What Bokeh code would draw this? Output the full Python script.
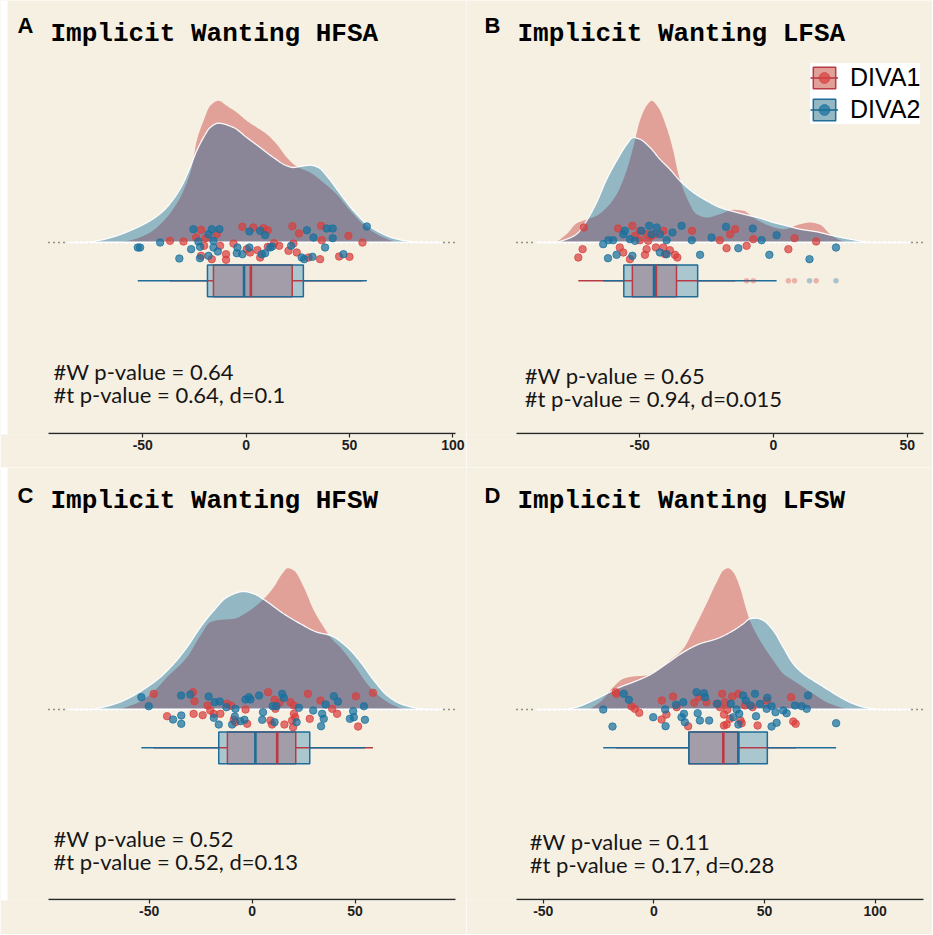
import numpy as np
from bokeh.plotting import figure
from bokeh.models import Range1d, FixedTicker, Label, Legend, LegendItem, BoxAnnotation
from bokeh.layouts import gridplot
from bokeh.embed import file_html
from bokeh.resources import INLINE

# ---------------- data ----------------
groups = ["DIVA1", "DIVA2"]

# ---- Panel A : Implicit Wanting HFSA ----
a_title = "Implicit Wanting HFSA"
a_xlim = [-95.6, 101.3]
a_ticks = [-50, 0, 50, 100]
a_stats = ["#W p-value = 0.64", "#t p-value = 0.64, d=0.1"]
# density (x 1e4)
a_d1_x = [-62.6, -54.5, -46.5, -38.4, -31.9, -28.7, -26.3, -23.9, -20.6, -17.4, -13.4, -9.4, -4.5, 0.3, 5.2,
          10.0, 14.8, 19.7, 24.5, 31.0, 37.4, 43.9, 50.3, 58.4, 66.5, 74.5]
a_d1_y = [0, 3, 10, 25, 45, 60, 75, 101.7, 121.7, 136.7, 141.7, 136.7, 130, 121.7, 115,
          108.3, 98.3, 85, 76, 70, 60, 48, 32, 15, 5, 0]
a_d2_x = [-78.7, -70.6, -62.6, -54.5, -46.5, -40.0, -35.2, -31.1, -27.1, -23.9, -20.6, -17.4, -13.4, -6.1, 0.3,
          6.8, 13.2, 19.7, 22.9, 26.1, 31.0, 35.0, 39.0, 43.9, 48.7, 53.5, 58.4, 64.8, 71.3, 79.4, 87.4]
a_d2_y = [0, 2.3, 6.7, 13.3, 21.7, 31.7, 43.3, 56.7, 75, 91.7, 105, 115, 119.3, 115, 105,
          95, 85, 76.7, 75, 76, 77.3, 75, 66.7, 53.3, 40, 28.3, 18.3, 10, 4.3, 1, 0]
a_p1_x = [-21.8, -14.2, -1.8, 3.5, 8.4, 10.5, 22.4, 25.6, 36.3, 36.6, 49.5, -36.8, -30.3, -24.2, -19.5, -20.3,
          -12.6, -6.1, 0.3, 5.5, 10.5, 13.5, 16.0, 20.5, 22.9, 24.5, 56.3, -21.8, -16.6, -9.7, -9.7, 1.9, 6.8,
          30.2, 35.8, 45.0, 50.0]
a_p1_j = [12.7, 8.3, 15.7, 15.0, 14.3, 12.3, 16.3, 9.0, 16.7, 2.3, 6.7, 1.7, 1.0, 5.0, 4.3, -3.3,
          -3.3, -1.0, -6.7, -7.7, -4.3, -0.7, -3.3, -8.3, -1.0, -10.0, 0.0, -13.3, -16.7, -11.7, -17.3, -10.0, -15.0,
          -15.0, -16.7, -14.0, -14.3]
a_p2_x = [-25.5, -16.6, -12.9, 1.6, 6.8, 9.2, 29.4, 32.6, 39.0, 41.9, 41.9, 58.4, -52.4, -41.6, -23.1, -18.2,
          -26.6, -22.3, -15.8, -4.2, 1.6, 11.6, 12.6, 21.8, 38.2, -32.3, -22.3, -18.2, -13.7, -4.5, -1.8, 7.6,
          9.2, 26.9, 28.1, 32.1, 47.1, -15.8, -51.3]
a_p2_j = [13.3, 13.3, 13.3, 11.0, 11.7, 7.3, 12.3, 5.0, 14.0, 14.0, 4.3, 16.0, -5.0, 0.0, 1.0, 8.3,
          -6.7, -4.3, -5.0, -5.0, -5.0, -5.0, -4.0, -3.3, -5.0, -16.0, -15.7, -13.3, -9.0, -10.7, -11.7, -11.7,
          -10.7, -15.0, -16.7, -14.3, -11.7, 1.7, -5.0]
# box stats: q1, median, q3, lower whisker, upper whisker
a_box1 = [-15.8, 2.3, 22.3, -36.8, 56.3]
a_box2 = [-18.7, -1.0, 27.7, -52.4, 58.4]

# ---- Panel B : Implicit Wanting LFSA ----
b_title = "Implicit Wanting LFSA"
b_xlim = [-96.0, 56.1]
b_ticks = [-50, 0, 50]
b_stats = ["#W p-value = 0.65", "#t p-value = 0.94, d=0.015"]
b_d1_x = [-82.3, -77.3, -73.6, -69.8, -66.1, -62.3, -58.6, -54.9, -52.4, -49.9, -47.4, -45.5, -43.0, -39.9,
          -37.4, -35.5, -32.4, -28.7, -24.9, -20.0, -15.0, -11.2, -7.5, -2.5, 3.7, 10.0, 13.7, 17.5, 21.2, 24.9, 28.7]
b_d1_y = [0, 8.3, 19, 23, 26.7, 35, 48, 71.7, 95, 121.7, 136.7, 141.7, 135, 115,
          91.7, 68.3, 45, 28.3, 25, 28.3, 32.7, 31.7, 25, 17.7, 13.3, 18.3, 20, 17.7, 8.3, 2.3, 0]
b_d2_x = [-82.3, -77.3, -73.6, -69.8, -66.1, -62.3, -58.6, -54.9, -52.4, -49.9, -46.1, -42.4, -38.7, -34.9,
          -29.9, -24.9, -20.0, -15.0, -8.7, -5.0, 0.0, 5.0, 10.0, 16.2, 22.4, 28.7, 37.4]
b_d2_y = [0, 3.3, 8.3, 21.7, 40, 63.3, 81.7, 97.7, 105, 103.3, 95, 83.3, 73.3, 61.7,
          50, 41.7, 35, 31, 26.7, 24.3, 20, 16.7, 13.3, 10.7, 6.7, 3.3, 0]
b_p1_x = [-70.8, -71.3, -72.9, -58.0, -52.7, -49.9, -47.4, -44.3, -41.1, -57.4, -56.1, -53.6, -49.9, -46.8,
          -47.4, -48.0, -43.9, -41.1, -38.7, -36.8, -35.9, -40.5, -30.4, -20.0, -16.2, -14.3, -17.5, -10.0, -7.5,
          5.6, 7.9, 16.0, -45.5, -51.7]
b_p1_j = [15.0, -6.7, -15.0, 14.0, 16.7, 11.7, 8.3, 8.3, 11.7, -5.0, -10.0, -16.7, 2.3, 1.7,
          -6.7, -12.3, -5.0, -5.0, -7.7, -12.3, -15.0, -11.7, 11.7, 2.3, 8.3, 13.3, -5.7, -3.3, 3.3,
          -6.7, 4.3, 1.0, 6.7, 6.7]
b_p2_x = [-63.6, -61.7, -59.9, -61.8, -58.6, -56.1, -55.5, -53.6, -52.7, -49.3, -46.4, -43.6, -45.5, -42.4,
          -39.9, -37.7, -34.3, -42.4, -39.9, -30.5, -27.4, -23.1, -17.7, -13.1, -7.7, -4.4, -1.5, 1.2, 13.5,
          23.4, -51.7]
b_p2_j = [-1.7, 2.3, 2.3, -15.7, -12.3, 8.3, 11.7, 3.3, -13.3, 11.7, 16.7, 15.0, 8.3, 8.3,
          2.3, 10.0, 16.7, -10.0, -11.7, 2.3, -12.3, 5.0, 15.7, -5.7, 14.0, 2.3, -12.3, 7.3, -16.7,
          -5.0, 1.7]
b_box1 = [-52.7, -43.9, -36.2, -72.9, -14.3]
b_box2 = [-55.9, -44.6, -28.3, -63.6, 1.2]

# ---- Panel C : Implicit Wanting HFSW ----
c_title = "Implicit Wanting HFSW"
c_xlim = [-98.9, 98.8]
c_ticks = [-50, 0, 50]
c_stats = ["#W p-value = 0.52", "#t p-value = 0.52, d=0.13"]
c_d1_x = [-67.3, -57.5, -49.4, -41.3, -31.6, -25.1, -20.3, -15.4, -8.9, -2.4, 5.7, 10.5, 14.6, 17.3, 20.3,
          25.1, 30.0, 34.8, 38.1, 42.9, 49.4, 55.9, 62.4, 68.9, 75.4]
c_d1_y = [0, 5, 15, 32.3, 52.3, 74, 87.3, 89.7, 90.7, 97.3, 110.7, 122.3, 135.7, 141.3, 139,
          122.3, 99, 82.3, 72, 62, 45, 25.7, 12.3, 4, 0]
c_d2_x = [-78.6, -73.7, -65.6, -57.5, -51.1, -44.6, -38.1, -31.6, -25.1, -18.6, -12.2, -4.1, 0.8, 5.7, 15.4,
          23.5, 31.6, 38.1, 46.2, 52.7, 59.2, 65.6, 72.1, 80.2, 86.7]
c_d2_y = [0, 1.7, 6.3, 14, 22.3, 32.3, 45.7, 62.3, 82.3, 99, 112.3, 118, 115.7, 110, 95.7,
          85.7, 77.3, 74, 62.3, 47.3, 29, 14, 5.7, 1.3, 0]
c_p1_x = [-47.8, -41.3, -28.7, -28.0, -28.4, -24.0, -21.6, -20.3, -18.6, -15.4, -12.2, -10.2, -8.9, -3.2,
          -2.4, -8.1, 7.8, 8.9, 9.7, 10.9, 13.5, 15.7, 18.6, 20.3, 20.3, 19.4, 19.9, 20.9, 27.1, 28.0, 33.2,
          38.9, 41.3, 50.4, 51.5, 58.7, 11.3]
c_p1_j = [15.7, -6.7, 17.3, 8.3, -4.3, -5.7, 4.0, -1.0, -4.3, -4.3, 5.7, 3.7, -10.3, 0.0,
          -14.3, -12.7, 17.3, -11.0, -15.0, 9.7, 7.3, -15.0, 7.3, 4.0, -4.3, -11.0, -17.7, -7.7, 15.7, -9.3, 9.0,
          0.7, -4.3, 13.3, -17.0, 16.7, 0.7]
c_p2_x = [-53.8, -50.2, -38.4, -34.4, -34.4, -34.5, -30.0, -21.1, -18.2, -15.7, -18.6, -16.2, -12.5, -8.1,
          -8.4, -9.7, -5.7, -3.7, -3.2, -1.6, -0.8, 3.4, 5.3, 4.9, 10.0, 11.8, 10.9, 14.6, 15.4, 22.7, 21.6,
          29.7, 34.0, 34.8, 33.5, 35.7, 39.7, 41.7, 47.5, 49.1, 49.4, 54.3, 54.8]
c_p2_j = [12.3, 3.3, -10.0, -6.0, -14.3, 14.0, 15.0, 13.0, 7.3, 8.0, -8.3, -15.0, 2.3, 0.7,
          -7.0, -15.0, -11.7, -10.3, 10.0, 12.3, 10.0, 14.0, -2.7, -10.3, 3.3, 3.3, -12.7, 15.7, 11.7, 1.7, -12.7,
          -1.0, -4.3, -9.3, -16.7, 5.0, 13.3, 8.0, -9.3, -1.7, -7.7, 3.3, -10.3]
c_box1 = [-12.0, 12.2, 21.2, -47.8, 58.7]
c_box2 = [-16.2, 1.6, 28.0, -53.8, 54.8]

# ---- Panel D : Implicit Wanting LFSW ----
d_title = "Implicit Wanting LFSW"
d_xlim = [-62.1, 121.9]
d_ticks = [-50, 0, 50, 100]
d_stats = ["#W p-value = 0.11", "#t p-value = 0.17, d=0.28"]
d_d1_x = [-30.5, -24.4, -18.4, -13.9, -9.4, -3.3, 1.2, 7.2, 13.3, 17.8, 23.8, 28.4, 31.4, 33.6, 35.9, 38.9,
          41.9, 43.4, 48.0, 54.0, 58.5, 63.0, 67.6, 72.1, 78.1, 84.2, 88.7]
d_d1_y = [0, 7.3, 22.3, 30.7, 33, 34, 39, 49, 60.7, 79, 105.7, 127.3, 139, 141.3, 137.3, 122.3,
          99, 89, 69, 49, 35.7, 29, 22.3, 15.7, 7.3, 2.3, 0]
d_d2_x = [-41.0, -35.0, -27.5, -21.4, -15.4, -9.4, -1.8, 5.7, 13.3, 20.8, 28.4, 35.9, 40.4, 43.4, 46.5, 49.5,
          54.0, 58.5, 63.0, 67.6, 72.1, 78.1, 84.2, 90.2, 96.2, 102.3]
d_d2_y = [0, 2.3, 9, 15.7, 22.3, 27.3, 34.7, 45.7, 57.3, 65.7, 70.7, 79, 85.7, 90.7, 91.3, 89,
          79, 62.3, 45.7, 35.7, 29, 20.7, 12.3, 5.7, 1.7, 0]
d_p1_x = [-16.9, -17.2, -10.1, -8.6, -6.6, 3.6, 3.5, 5.7, 8.7, 10.3, 15.5, 18.3, 20.4, 23.8, 28.4, 30.9,
          31.7, 32.9, 32.1, 33.2, 35.4, 38.2, 39.2, 39.7, 31.7, 41.2, 44.6, 46.9, 51.0, 62.0, 63.0, 64.1, 29.9, 34.4]
d_p1_j = [15.7, 17.3, 3.0, 0.7, -3.3, 9.0, -10.0, -5.0, 13.0, 2.3, -16.7, 6.7, 12.3, 7.3, 5.7, 15.7,
          -5.0, -15.0, 7.3, -0.3, 13.0, 15.7, -11.0, -13.7, -16.0, 4.0, 2.3, -16.0, 9.0, 12.3, -12.0, -14.3, 2.3, -9.3]
d_p2_x = [-22.9, -18.7, -13.6, -11.3, -0.3, 5.1, 5.3, 10.0, 12.5, 13.3, 14.0, 13.6, 19.3, 22.6, 23.2, 19.8,
          20.8, 25.0, 28.7, 34.8, 35.9, 37.4, 38.6, 38.2, 40.4, 41.6, 43.7, 45.7, 46.2, 48.0, 51.3, 51.0, 53.2,
          53.2, 55.5, 55.0, 58.5, 60.0, 63.8, 66.8, 69.1, 69.7, 82.4]
d_p2_j = [0.0, -17.0, 15.7, 9.7, -7.7, 0.0, -16.7, 4.7, -7.7, 7.3, -12.7, -4.3, 17.3, 16.3, 12.3, -3.7,
          -11.0, -11.0, 5.7, 5.7, -7.7, 0.0, -4.3, -15.0, 14.0, 9.0, 4.0, 15.7, -6.7, 5.7, 11.7, 0.7, 3.3,
          -17.0, -13.3, -2.7, -1.0, -3.7, 4.0, 3.3, 0.7, 14.0, -13.7]
d_box1 = [15.8, 31.4, 38.2, -17.2, 64.1]
d_box2 = [15.8, 38.2, 51.3, -22.9, 82.4]

# ---------------- styles ----------------
BG = "#F6F0E3"
RED_ONLY = "#E1A098"
BLUE_ONLY = "#93B8C4"
OVERLAP = "#8A8697"
RED_PT = "#D8403E"
BLUE_PT = "#18709E"
RED_LINE = "#B83A45"
BLUE_LINE = "#1E6C97"
BLUE_BOX = "#AAC7D0"
RED_BOX = "#E6B4AE"
BOTH_BOX = "#A39DA9"
AXIS_COL = "#262626"
BOX_TOP, BOX_BOT, WHISK = -22.6, -54.3, -38.3


def pchip(x, y, xn):
    x = np.asarray(x, float)
    y = np.asarray(y, float)
    h = np.diff(x)
    d = np.diff(y) / h
    m = np.zeros_like(y)
    for k in range(1, len(x) - 1):
        if d[k - 1] * d[k] > 0:
            w1 = 2 * h[k] + h[k - 1]
            w2 = h[k] + 2 * h[k - 1]
            m[k] = (w1 + w2) / (w1 / d[k - 1] + w2 / d[k])
    idx = np.clip(np.searchsorted(x, xn) - 1, 0, len(x) - 2)
    t = np.clip((xn - x[idx]) / h[idx], 0, 1)
    h00 = 2 * t**3 - 3 * t**2 + 1
    h10 = t**3 - 2 * t**2 + t
    h01 = -2 * t**3 + 3 * t**2
    h11 = t**3 - t**2
    yn = h00 * y[idx] + h10 * h[idx] * m[idx] + h01 * y[idx + 1] + h11 * h[idx] * m[idx + 1]
    yn = np.where((xn < x[0]) | (xn > x[-1]), 0.0, yn)
    return np.maximum(yn, 0.0)


panels = [
    dict(letter="A", title=a_title, xlim=a_xlim, ticks=a_ticks, stats=a_stats, d1=(a_d1_x, a_d1_y),
         d2=(a_d2_x, a_d2_y), p1=(a_p1_x, a_p1_j), p2=(a_p2_x, a_p2_j), b1=a_box1, b2=a_box2,
         ann_x=-93.2, ann_y=(-128.5, -151.5)),
    dict(letter="B", title=b_title, xlim=b_xlim, ticks=b_ticks, stats=b_stats, d1=(b_d1_x, b_d1_y),
         d2=(b_d2_x, b_d2_y), p1=(b_p1_x, b_p1_j), p2=(b_p2_x, b_p2_j), b1=b_box1, b2=b_box2,
         ann_x=-92.9, ann_y=(-132.5, -155.5)),
    dict(letter="C", title=c_title, xlim=c_xlim, ticks=c_ticks, stats=c_stats, d1=(c_d1_x, c_d1_y),
         d2=(c_d2_x, c_d2_y), p1=(c_p1_x, c_p1_j), p2=(c_p2_x, c_p2_j), b1=c_box1, b2=c_box2,
         ann_x=-96.5, ann_y=(-128.5, -151.5)),
    dict(letter="D", title=d_title, xlim=d_xlim, ticks=d_ticks, stats=d_stats, d1=(d_d1_x, d_d1_y),
         d2=(d_d2_x, d_d2_y), p1=(d_p1_x, d_p1_j), p2=(d_p2_x, d_p2_j), b1=d_box1, b2=d_box2,
         ann_x=-56.1, ann_y=(-131.5, -154.5)),
]

# figure geometry in pixels: axis-line ends inside the figure, frame bottom border, text anchors (middle)
layouts = [
    dict(w=466, h=467, axl=48, axr=455, bb=33, ylim=(-192, 242), lx=17, ly=409.5, tx=50, ty=400.2, strip=True),
    dict(w=466, h=467, axl=50, axr=457, bb=33, ylim=(-192, 242), lx=18, ly=409.5, tx=51, ty=400.2, strip=False),
    dict(w=466, h=467, axl=48, axr=455, bb=34, ylim=(-191, 242), lx=17, ly=405.5, tx=50, ty=399.2, strip=True),
    dict(w=466, h=467, axl=50, axr=457, bb=34, ylim=(-191, 242), lx=18, ly=405.5, tx=51, ty=399.2, strip=False),
]


def make_panel(d, lay, with_legend=False):
    x0, x1 = d["xlim"]
    u = (x1 - x0) / (lay["axr"] - lay["axl"])
    xr0 = x0 - lay["axl"] * u
    xr1 = x1 + (lay["w"] - lay["axr"]) * u
    y0, y1 = lay["ylim"]
    p = figure(width=lay["w"], height=lay["h"], x_range=Range1d(xr0, xr1), y_range=Range1d(y0, y1),
               output_backend="svg", toolbar_location=None, y_axis_location=None,
               min_border_left=0, min_border_right=0, min_border_top=0,
               min_border_bottom=lay["bb"], background_fill_color=BG, border_fill_color=BG,
               outline_line_color=None)
    p.xgrid.visible = False
    p.ygrid.visible = False
    ax = p.xaxis[0]
    ax.ticker = FixedTicker(ticks=d["ticks"])
    ax.major_label_overrides = {t: str(t) for t in d["ticks"]}
    ax.axis_line_color = None
    ax.major_tick_line_color = AXIS_COL
    ax.major_tick_line_width = 1.2
    ax.major_tick_out = 3
    ax.major_tick_in = 1
    ax.minor_tick_line_color = None
    ax.major_label_text_font = "Liberation Sans"
    ax.major_label_text_font_style = "bold"
    ax.major_label_text_font_size = "14px"
    ax.major_label_text_color = "#1e1e1e"
    ax.major_label_standoff = 2

    if lay["strip"]:
        p.add_layout(BoxAnnotation(left=0, right=7, left_units="screen", right_units="screen",
                                   fill_color="white", fill_alpha=1.0, line_color=None, level="underlay"))

    # axis line drawn over the data range only
    yax = y0 + 1
    p.line(x=[x0, x1], y=[yax, yax], line_color=AXIS_COL, line_width=1.4)

    # dotted zero line and white baseline
    p.line(x=[x0, x1], y=[0, 0], line_color="#333333", line_width=1.6, line_dash="1 4")
    lo = x0 + 0.047 * (x1 - x0)
    hi = x1 - 0.033 * (x1 - x0)
    xn = np.linspace(lo, hi, 900)
    r = pchip(d["d1"][0], d["d1"][1], xn)
    b = pchip(d["d2"][0], d["d2"][1], xn)
    ov = np.minimum(r, b)
    va_r = p.varea(x=xn, y1=0, y2=r, fill_color=RED_ONLY)
    va_b = p.varea(x=xn, y1=0, y2=b, fill_color=BLUE_ONLY)
    p.varea(x=xn, y1=0, y2=ov, fill_color=OVERLAP)
    p.line(x=xn, y=b, line_color="white", line_width=1.3, line_alpha=0.95)
    p.line(x=[lo, hi], y=[0, 0], line_color="white", line_width=2)

    # jittered points
    sc_r = p.scatter(x=d["p1"][0], y=d["p1"][1], size=7.5, fill_color=RED_PT, line_color=RED_PT,
                     fill_alpha=0.72, line_alpha=0.72)
    sc_b = p.scatter(x=d["p2"][0], y=d["p2"][1], size=7.5, fill_color=BLUE_PT, line_color=BLUE_PT,
                     fill_alpha=0.72, line_alpha=0.72)

    # boxplots
    q1r, mr, q3r, lor, hir = d["b1"]
    q1b, mb, q3b, lob, hib = d["b2"]
    p.quad(left=[q1b], right=[q3b], bottom=[BOX_BOT], top=[BOX_TOP], fill_color=BLUE_BOX, line_color=None)
    p.quad(left=[q1r], right=[q3r], bottom=[BOX_BOT], top=[BOX_TOP], fill_color=RED_BOX, line_color=None)
    il, ir = max(q1r, q1b), min(q3r, q3b)
    if ir > il:
        p.quad(left=[il], right=[ir], bottom=[BOX_BOT], top=[BOX_TOP], fill_color=BOTH_BOX, line_color=None)
    wk_r = p.segment(x0=[lor, q3r], x1=[q1r, hir], y0=[WHISK, WHISK], y1=[WHISK, WHISK],
                     line_color=RED_LINE, line_width=1.6)
    wk_b = p.segment(x0=[lob, q3b], x1=[q1b, hib], y0=[WHISK, WHISK], y1=[WHISK, WHISK],
                     line_color=BLUE_LINE, line_width=1.6)
    ol_r = p.quad(left=[q1r], right=[q3r], bottom=[BOX_BOT], top=[BOX_TOP], fill_color=None,
                  line_color=RED_LINE, line_width=1.5)
    ol_b = p.quad(left=[q1b], right=[q3b], bottom=[BOX_BOT], top=[BOX_TOP], fill_color=None,
                  line_color=BLUE_LINE, line_width=1.5)
    p.segment(x0=[mr], x1=[mr], y0=[BOX_BOT], y1=[BOX_TOP], line_color=RED_LINE, line_width=2.6)
    p.segment(x0=[mb], x1=[mb], y0=[BOX_BOT], y1=[BOX_TOP], line_color=BLUE_LINE, line_width=2.6)

    # outliers (points beyond whiskers)
    for (px, _), (q1, m, q3, wl, wh), col in ((d["p1"], d["b1"], RED_PT), (d["p2"], d["b2"], BLUE_PT)):
        out = [v for v in px if v < wl or v > wh]
        if out:
            p.scatter(x=out, y=[WHISK] * len(out), size=5.5, fill_color=col, line_color=None, fill_alpha=0.35)

    # texts (anchored at their vertical middle)
    p.add_layout(Label(x=lay["lx"], y=lay["ly"], x_units="screen", y_units="screen", text=d["letter"],
                       text_font="Liberation Sans", text_font_style="bold", text_font_size="22px",
                       text_color="black", text_baseline="middle"))
    p.add_layout(Label(x=lay["tx"], y=lay["ty"], x_units="screen", y_units="screen", text=d["title"],
                       text_font="Liberation Mono", text_font_style="bold", text_font_size="26px",
                       text_color="black", text_baseline="middle"))
    for s, yy in zip(d["stats"], d["ann_y"]):
        p.add_layout(Label(x=d["ann_x"], y=yy, text=s, text_font="Lato", text_font_size="22px",
                           text_color="#161616", text_baseline="middle"))

    if with_legend:
        items = [LegendItem(label=groups[0], renderers=[va_r, ol_r, wk_r, sc_r]),
                 LegendItem(label=groups[1], renderers=[va_b, ol_b, wk_b, sc_b])]
        leg = Legend(items=items, location=(344, 310), background_fill_color="white",
                     background_fill_alpha=1.0, border_line_color=None, label_text_font="Liberation Sans",
                     label_text_font_size="25px", label_text_color="black", glyph_width=28, glyph_height=27,
                     label_standoff=12, padding=5, spacing=3, margin=0)
        p.add_layout(leg)
    return p


figs = [make_panel(panels[i], layouts[i], with_legend=(i == 1)) for i in range(4)]
grid = gridplot([[figs[0], figs[1]], [figs[2], figs[3]]], toolbar_location=None)

open("out.html", "w").write(file_html(grid, INLINE, title="Implicit Wanting"))
